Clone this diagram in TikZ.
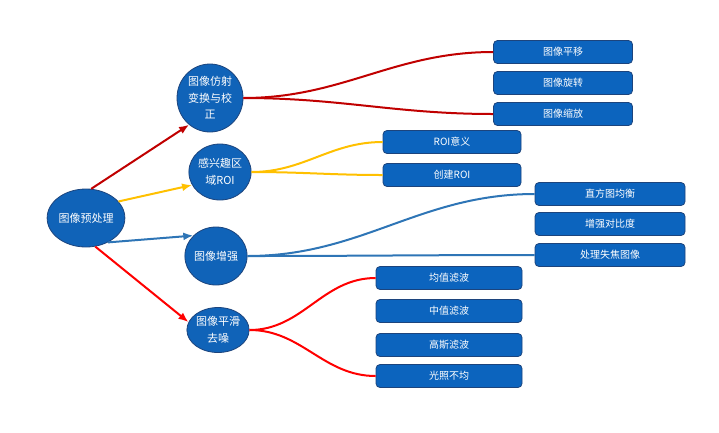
\documentclass[tikz,border=0pt]{standalone}
\usepackage{fontspec}
\newfontfamily\cjk{Noto Sans CJK SC}
\usetikzlibrary{shapes.geometric,arrows.meta,positioning}
\definecolor{ellblue}{RGB}{16,99,184}
\definecolor{boxblue}{RGB}{12,100,190}
\definecolor{edgeblue}{RGB}{28,68,125}
\definecolor{darkred}{RGB}{192,0,0}
\definecolor{gold}{RGB}{255,192,0}
\definecolor{lineblue}{RGB}{46,117,182}
\definecolor{brightred}{RGB}{255,0,0}

\tikzset{
  topic/.style={ellipse, draw=edgeblue, line width=0.8pt, fill=ellblue, text=white,
    inner sep=0pt, align=center, font=\cjk\fontsize{11}{16.5}\selectfont},
  leafbox/.style={rectangle, rounded corners=4pt, draw=edgeblue, line width=0.8pt,
    fill=boxblue, text=white, minimum height=23pt, inner sep=0pt,
    font=\cjk\fontsize{10}{12}\selectfont},
  rootarrow/.style={line width=2pt, -{Latex[length=10pt,width=8pt]}},
  twig/.style={line width=2pt},
}

\begin{document}
\begin{tikzpicture}[x=1pt,y=-1pt]
        \useasboundingbox (0,0) rectangle (719,432);
        % Root and topics
        \node[topic, minimum width=73pt, minimum height=58pt] (root) at (86,218) {图像预处理};
        \node[topic, minimum width=66pt, minimum height=68pt] (affine) at (210,98) {图像仿射\\变换与校\\正};
        \node[topic, minimum width=62pt, minimum height=56pt] (roi) at (220,172) {感兴趣区\\域ROI};
        \node[topic, minimum width=62pt, minimum height=58pt] (enhance) at (216,256) {图像增强};
        \node[topic, minimum width=62pt, minimum height=45pt] (smooth) at (218,330) {图像平滑\\去噪};
        % Leaf boxes
        \node[leafbox, minimum width=139pt] (shift) at (563,52) {图像平移};
        \node[leafbox, minimum width=139pt] (rotate) at (563,83) {图像旋转};
        \node[leafbox, minimum width=139pt] (scale) at (563,114) {图像缩放};
        \node[leafbox, minimum width=138pt] (meaning) at (452,142) {ROI意义};
        \node[leafbox, minimum width=138pt] (create) at (452,175) {创建ROI};
        \node[leafbox, minimum width=150pt] (hist) at (610,194) {直方图均衡};
        \node[leafbox, minimum width=150pt] (contrast) at (610,224) {增强对比度};
        \node[leafbox, minimum width=150pt] (defocus) at (610,255) {处理失焦图像};
        \node[leafbox, minimum width=146pt] (mean) at (449,278) {均值滤波};
        \node[leafbox, minimum width=146pt] (median) at (449,311) {中值滤波};
        \node[leafbox, minimum width=146pt] (gauss) at (449,345) {高斯滤波};
        \node[leafbox, minimum width=146pt] (light) at (449,376) {光照不均};
        % Arrows from the root
        \draw[rootarrow, darkred] (root.80) -- (affine.232);
        \draw[rootarrow, gold] (root.27) -- (roi.205);
        \draw[rootarrow, lineblue] (root.-48) -- (enhance.138);
        \draw[rootarrow, brightred] (root.-72) -- (smooth.165);
        % Curves to the leaves
        \draw[twig, darkred] (affine.east) to[out=0,in=180] (shift.west);
        \draw[twig, darkred] (affine.east) to[out=0,in=180] (scale.west);
        \draw[twig, gold] (roi.east) to[out=0,in=180] (meaning.west);
        \draw[twig, gold] (roi.east) to[out=0,in=180] (create.west);
        \draw[twig, lineblue] (enhance.east) to[out=0,in=180] (hist.west);
        \draw[twig, lineblue] (enhance.east) to[out=0,in=180] (defocus.west);
        \draw[twig, brightred] (smooth.east) to[out=0,in=180] (mean.west);
        \draw[twig, brightred] (smooth.east) to[out=0,in=180] (light.west);
      \end{tikzpicture}
\end{document}
